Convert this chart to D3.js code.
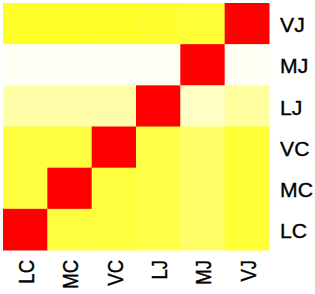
<!DOCTYPE html>
<html>
<head>
<meta charset="utf-8">
<script src="https://cdn.jsdelivr.net/npm/d3@7"></script>
<style>
  body { margin: 0; background: #fff; }
  text { font-family: "Liberation Sans", Arial, sans-serif; fill: #000; stroke: #000; stroke-width: 0.35px; }
</style>
</head>
<body>
<svg id="chart" width="315" height="294"></svg>
<script>
// categories, columns left to right and rows top to bottom
const colLabels = ["LC", "MC", "VC", "LJ", "MJ", "VJ"];
const rowLabels = ["VJ", "MJ", "LJ", "VC", "MC", "LC"];

// similarity values per row (1 = the diagonal)
const rowVJ = [0.675, 0.675, 0.67, 0.65, 0.63, 1];
const rowMJ = [0.03, 0.03, 0.03, 0.03, 1, 0.04];
const rowLJ = [0.27, 0.27, 0.27, 1, 0.185, 0.3];
const rowVC = [0.6, 0.6, 1, 0.575, 0.47, 0.63];
const rowMC = [0.6, 1, 0.6, 0.575, 0.47, 0.63];
const rowLC = [1, 0.6, 0.6, 0.575, 0.47, 0.63];
const rows = [rowVJ, rowMJ, rowLJ, rowVC, rowMC, rowLC];

const svg = d3.select("#chart");
const gridLeft = 3, gridRight = 269, gridTop = 3, gridBottom = 250;

let x = d3.scaleBand().domain(colLabels).range([gridLeft, gridRight]);
let y = d3.scaleBand().domain(rowLabels).range([gridTop, gridBottom]);
let color = d3.scaleLinear()
    .domain([0, 0.8, 1])
    .range(["#ffffff", "#ffff00", "#ff0000"]);

let cells = [];
rows.forEach((vals, i) => {
    vals.forEach((v, j) => {
        cells.push({ row: rowLabels[i], col: colLabels[j], value: v });
    });
});

svg.append("g")
    .selectAll("rect")
    .data(cells)
    .join("rect")
    .attr("x", d => x(d.col))
    .attr("y", d => y(d.row))
    .attr("width", x.bandwidth() + 0.5)
    .attr("height", y.bandwidth() + 0.5)
    .attr("fill", d => color(d.value));

// row labels on the right
svg.append("g")
    .selectAll("text")
    .data(rowLabels)
    .join("text")
    .attr("transform", d => "translate(" + (gridRight + 11) + "," + (y(d) + y.bandwidth() / 2) + ") scale(1.06,1)")
    .attr("dy", "0.43em")
    .style("font-size", "20px")
    .text(d => d);

// column labels, rotated (glyphs a bit wide, like the source image)
svg.append("g")
    .selectAll("text")
    .data(colLabels)
    .join("text")
    .attr("transform", d => "translate(" + (x(d) + x.bandwidth() / 2 + 1) + "," + (gridBottom + 10) + ") rotate(-90) scale(1,1.2)")
    .attr("text-anchor", "end")
    .attr("dy", "0.36em")
    .style("font-size", "18.5px")
    .text(d => d);
</script>
</body>
</html>
